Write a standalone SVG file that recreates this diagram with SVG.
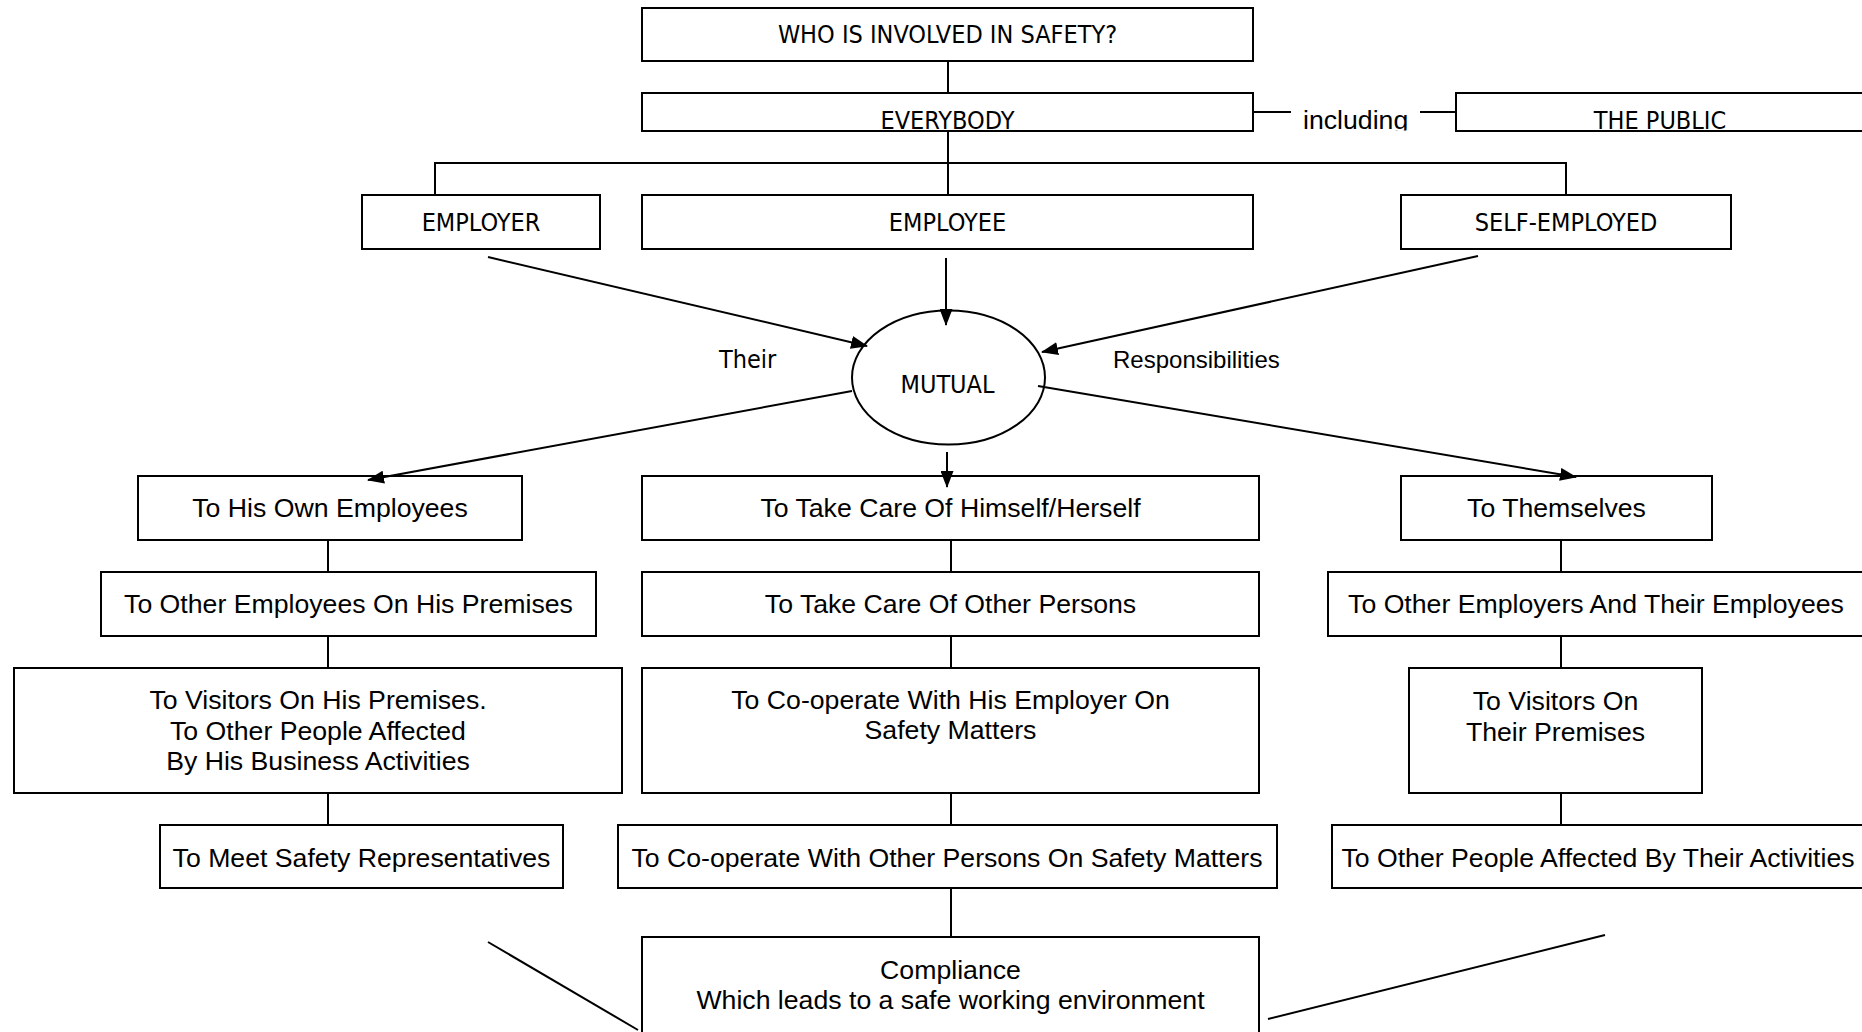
<svg xmlns="http://www.w3.org/2000/svg" width="1862" height="1032" viewBox="0 0 1862 1032">
<defs>
<style>
.box{fill:#fff;stroke:#000;stroke-width:2}
.ln{fill:none;stroke:#000;stroke-width:2}
.ar{fill:none;stroke:#000;stroke-width:2;marker-end:url(#ah)}
.h{font-family:"DejaVu Sans Condensed","DejaVu Sans",sans-serif;font-size:25px;fill:#000}
.t{font-family:"Liberation Sans",Arial,sans-serif;font-size:26.67px;fill:#000}
.s{font-family:"Liberation Sans",Arial,sans-serif;font-size:24px;fill:#000}
.c{text-anchor:middle}
</style>
<marker id="ah" markerWidth="17" markerHeight="13" refX="16" refY="6.5" orient="auto" markerUnits="userSpaceOnUse">
<path d="M0,0 L17,6.5 L0,13 z" fill="#000"/>
</marker>
<clipPath id="clipInc"><rect x="1290" y="90" width="140" height="40.5"/></clipPath>
</defs>
<rect x="0" y="0" width="1862" height="1032" fill="#fff"/>

<g id="n-who"><rect class="box" x="642" y="8" width="611" height="53"/><text class="h c" x="947.5" y="43">WHO IS INVOLVED IN SAFETY?</text></g>
<g id="n-everybody"><rect class="box" x="642" y="93" width="611" height="38"/><text class="h c" x="947.5" y="129">EVERYBODY</text></g>
<g id="n-public"><rect class="box" x="1456" y="93" width="420" height="38"/><text class="h c" x="1660" y="129">THE PUBLIC</text></g>
<g id="n-employer"><rect class="box" x="362" y="195" width="238" height="54"/><text class="h c" x="481" y="231">EMPLOYER</text></g>
<g id="n-employee"><rect class="box" x="642" y="195" width="611" height="54"/><text class="h c" x="947.5" y="231">EMPLOYEE</text></g>
<g id="n-self"><rect class="box" x="1401" y="195" width="330" height="54"/><text class="h c" x="1566" y="231">SELF-EMPLOYED</text></g>
<g id="n-mutual"><ellipse cx="948.5" cy="377.5" rx="96.5" ry="67" fill="#fff" stroke="#000" stroke-width="2"/><text class="h c" x="947.5" y="393">MUTUAL</text></g>

<g id="n-l1"><rect class="box" x="138" y="476" width="384" height="64"/><text class="t c" x="330" y="517">To His Own Employees</text></g>
<g id="n-m1"><rect class="box" x="642" y="476" width="617" height="64"/><text class="t c" x="950.5" y="517">To Take Care Of Himself/Herself</text></g>
<g id="n-r1"><rect class="box" x="1401" y="476" width="311" height="64"/><text class="t c" x="1556.5" y="517">To Themselves</text></g>

<g id="n-l2"><rect class="box" x="101" y="572" width="495" height="64"/><text class="t c" x="348.5" y="613">To Other Employees On His Premises</text></g>
<g id="n-m2"><rect class="box" x="642" y="572" width="617" height="64"/><text class="t c" x="950.5" y="613">To Take Care Of Other Persons</text></g>
<g id="n-r2"><rect class="box" x="1328" y="572" width="540" height="64"/><text class="t c" x="1596" y="613">To Other Employers And Their Employees</text></g>

<g id="n-l3"><rect class="box" x="14" y="668" width="608" height="125"/><text class="t c" x="318" y="709">To Visitors On His Premises.</text><text class="t c" x="318" y="739.5">To Other People Affected</text><text class="t c" x="318" y="770">By His Business Activities</text></g>
<g id="n-m3"><rect class="box" x="642" y="668" width="617" height="125"/><text class="t c" x="950.5" y="708.5">To Co-operate With His Employer On</text><text class="t c" x="950.5" y="739">Safety Matters</text></g>
<g id="n-r3"><rect class="box" x="1409" y="668" width="293" height="125"/><text class="t c" x="1555.5" y="710">To Visitors On</text><text class="t c" x="1555.5" y="740.5">Their Premises</text></g>

<g id="n-l4"><rect class="box" x="160" y="825" width="403" height="63"/><text class="t c" x="361.5" y="867">To Meet Safety Representatives</text></g>
<g id="n-m4"><rect class="box" x="618" y="825" width="659" height="63"/><text class="t c" x="947" y="867">To Co-operate With Other Persons On Safety Matters</text></g>
<g id="n-r4"><rect class="box" x="1332" y="825" width="540" height="63"/><text class="t c" x="1598" y="867">To Other People Affected By Their Activities</text></g>

<g id="n-compliance"><rect class="box" x="642" y="937" width="617" height="120"/><text class="t c" x="950.5" y="979">Compliance</text><text class="t c" x="950.5" y="1009">Which leads to a safe working environment</text></g>

<g id="connectors">
<line class="ln" x1="948" y1="61" x2="948" y2="93"/>
<line class="ln" x1="948" y1="131" x2="948" y2="195"/>
<polyline class="ln" points="435,195 435,163 1566,163 1566,195"/>
<line class="ln" x1="1253" y1="112" x2="1291" y2="112"/>
<line class="ln" x1="1420" y1="112" x2="1456" y2="112"/>
<line class="ar" x1="488" y1="257" x2="867" y2="346"/>
<line class="ar" x1="946" y1="258" x2="946" y2="325"/>
<line class="ar" x1="1478" y1="256" x2="1042" y2="352"/>
<line class="ar" x1="852" y1="391" x2="368" y2="480"/>
<line class="ar" x1="947" y1="452" x2="947" y2="487"/>
<line class="ar" x1="1038" y1="386" x2="1576" y2="477"/>
<line class="ln" x1="328" y1="540" x2="328" y2="572"/>
<line class="ln" x1="328" y1="636" x2="328" y2="668"/>
<line class="ln" x1="328" y1="793" x2="328" y2="825"/>
<line class="ln" x1="951" y1="540" x2="951" y2="572"/>
<line class="ln" x1="951" y1="636" x2="951" y2="668"/>
<line class="ln" x1="951" y1="793" x2="951" y2="825"/>
<line class="ln" x1="951" y1="888" x2="951" y2="937"/>
<line class="ln" x1="1561" y1="540" x2="1561" y2="572"/>
<line class="ln" x1="1561" y1="636" x2="1561" y2="668"/>
<line class="ln" x1="1561" y1="793" x2="1561" y2="825"/>
<line class="ln" x1="488" y1="942" x2="638" y2="1030"/>
<line class="ln" x1="1268" y1="1019" x2="1605" y2="935"/>
<text class="h" x="719" y="368">Their</text>
<text class="s" x="1113" y="368">Responsibilities</text>
<text class="t" x="1303" y="129" clip-path="url(#clipInc)">including</text>
</g>
</svg>
